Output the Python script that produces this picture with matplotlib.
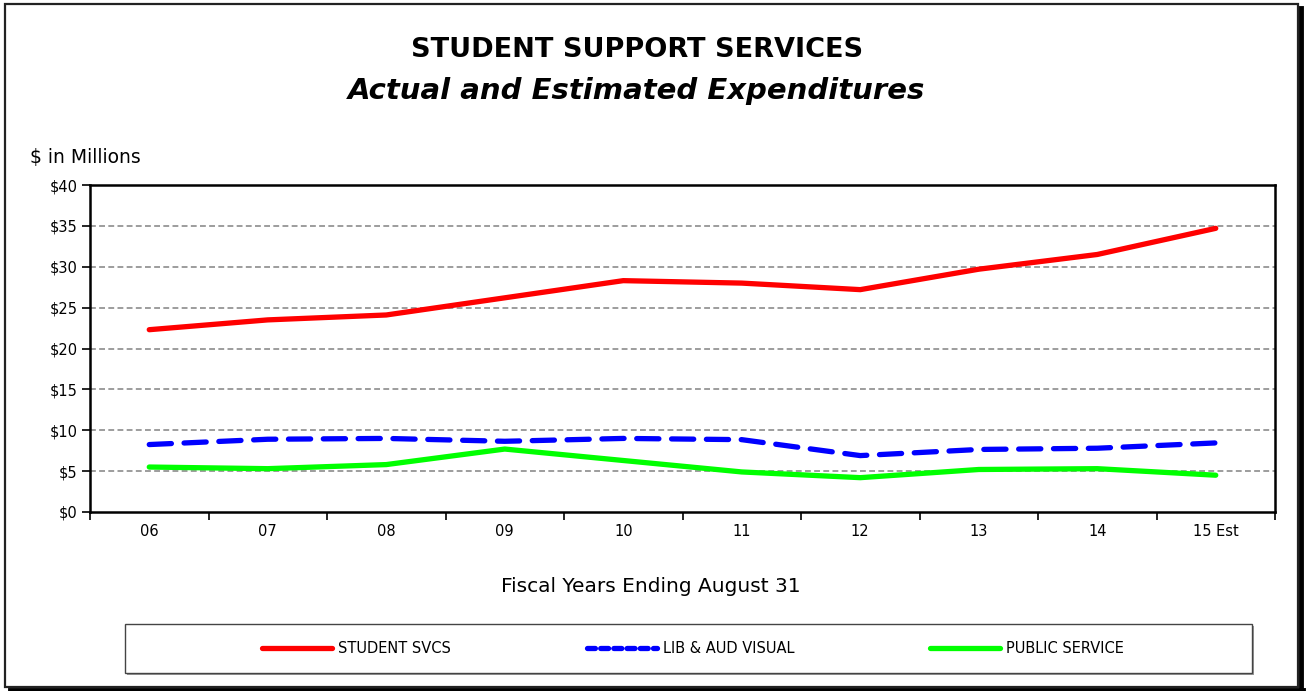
import matplotlib
matplotlib.use('Agg')
import matplotlib.pyplot as plt
from matplotlib.patches import Rectangle
from matplotlib.lines import Line2D

W, H = 1309, 691

years = ['06', '07', '08', '09', '10', '11', '12', '13', '14', '15 Est']
student_svcs = [22.3, 23.5, 24.1, 26.2, 28.3, 28.0, 27.2, 29.7, 31.5, 34.7]
lib_aud_visual = [8.25, 8.9, 9.0, 8.65, 9.0, 8.85, 6.9, 7.65, 7.8, 8.45]
public_service = [5.5, 5.3, 5.8, 7.7, 6.3, 4.9, 4.2, 5.2, 5.3, 4.5]
y_ticks = [0, 5, 10, 15, 20, 25, 30, 35, 40]
series_names = ['STUDENT SVCS', 'LIB & AUD VISUAL', 'PUBLIC SERVICE']


def fx(px):
    return px / W


def fy(py):
    return 1 - py / H


fig = plt.figure(figsize=(W / 100, H / 100), dpi=100)
fig.patch.set_facecolor('white')

# outer frame with shadow on the right and bottom
fig.add_artist(Rectangle((fx(5), fy(687)), fx(1293), (687 - 4) / H,
                         transform=fig.transFigure, fill=False, edgecolor='#222222', lw=1.6))
fig.add_artist(Line2D([fx(1301), fx(1301)], [fy(8), fy(691)], transform=fig.transFigure,
                      color='black', lw=3.5))
fig.add_artist(Line2D([fx(10), fx(1303)], [fy(689.5), fy(689.5)], transform=fig.transFigure,
                      color='black', lw=3.5))

ax = fig.add_axes([fx(90), fy(512), fx(1275 - 90), (512 - 185) / H])
x = list(range(len(years)))
ax.plot(x, student_svcs, color='#ff0000', lw=3.8, solid_capstyle='round', solid_joinstyle='round', zorder=3)
ax.plot(x, lib_aud_visual, color='#0000ff', lw=3.8, dashes=(4.2, 2.4), dash_capstyle='round', zorder=3)
ax.plot(x, public_service, color='#00ff00', lw=3.8, solid_capstyle='round', solid_joinstyle='round', zorder=3)

ax.set_xlim(-0.5, len(years) - 0.5)
ax.set_ylim(0, 40)
ax.set_yticks(y_ticks)
ax.set_yticklabels(['$' + str(v) for v in y_ticks], fontsize=10.5)
ax.set_xticks(x)
ax.set_xticklabels(years, fontsize=10.5)
ax.set_xticks([i - 0.5 for i in range(len(years) + 1)], minor=True)
ax.tick_params(axis='x', which='major', length=0, pad=9)
ax.tick_params(axis='x', which='minor', length=6, width=1.2, direction='out')
ax.tick_params(axis='y', length=6, width=1.2, direction='out', pad=3)
for v in y_ticks[1:-1]:
    ax.axhline(v, color='#8c8c8c', lw=1.2, dashes=(3.5, 2), zorder=1)
for s in ax.spines.values():
    s.set_linewidth(1.8)
    s.set_color('black')

fig.text(fx(637), fy(50), 'STUDENT SUPPORT SERVICES', ha='center', va='center',
         fontsize=19.5, fontweight='bold')
fig.text(fx(637), fy(91), 'Actual and Estimated Expenditures', ha='center', va='center',
         fontsize=21, fontweight='bold', style='italic')
fig.text(fx(30), fy(157), '$ in Millions', ha='left', va='center', fontsize=13.5)
fig.text(fx(651), fy(587), 'Fiscal Years Ending August 31', ha='center', va='center', fontsize=14.5)

# legend box
fig.add_artist(Rectangle((fx(127), fy(675)), fx(1127), (673 - 624) / H, transform=fig.transFigure,
                         facecolor='#999999', edgecolor='none'))
fig.add_artist(Rectangle((fx(125), fy(673)), fx(1127), (673 - 624) / H, transform=fig.transFigure,
                         facecolor='white', edgecolor='#444444', lw=1.0))
handles = [Line2D([], [], color='#ff0000', lw=3.8, solid_capstyle='round'),
           Line2D([], [], color='#0000ff', lw=3.8, dashes=(1.5, 1.0), dash_capstyle='round'),
           Line2D([], [], color='#00ff00', lw=3.8, solid_capstyle='round')]
fig.legend(handles, series_names, loc='center', bbox_to_anchor=(fx(693), fy(648.5)), ncol=3,
           frameon=False, prop={'size': 10.5}, handlelength=4.8,
           handletextpad=0.4, columnspacing=9.3)

fig.savefig('out.png', dpi=100)
